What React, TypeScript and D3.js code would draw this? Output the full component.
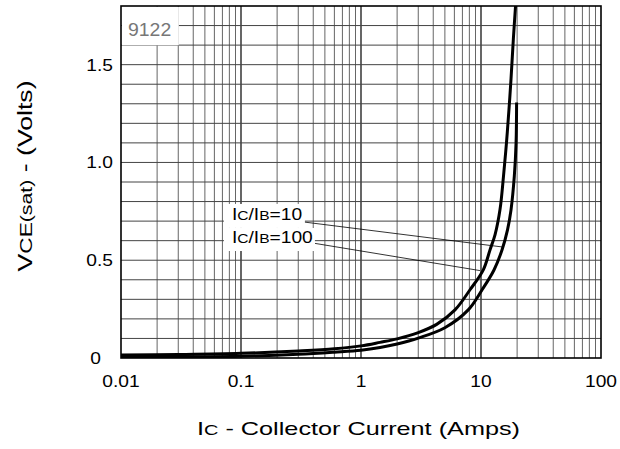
import React from "react";
import * as d3 from "d3";

// ---- data ----
const xTicks = [0.01, 0.1, 1, 10, 100];
const xTickLabels = ["0.01", "0.1", "1", "10", "100"];
const yTicks = [0, 0.5, 1.0, 1.5];
const yTickLabels = ["0", "0.5", "1.0", "1.5"];
const yGrid = [0.1, 0.2, 0.3, 0.4, 0.5, 0.6, 0.7, 0.8, 0.9, 1.0, 1.1, 1.2, 1.3, 1.4, 1.5, 1.6, 1.7];

// Ic/Ib = 100
const currentA = [0.01, 0.03, 0.1, 0.3, 0.6, 1, 1.44, 2, 3, 4.27, 6.07, 8.1, 10.45, 11.9, 13.1, 14.4, 15.4, 16.3, 17.1, 17.8, 18.6, 19.45];
const voltsA = [0.015, 0.018, 0.024, 0.036, 0.047, 0.062, 0.08, 0.098, 0.13, 0.172, 0.246, 0.349, 0.451, 0.554, 0.631, 0.759, 0.93, 1.10, 1.27, 1.43, 1.63, 1.81];

// Ic/Ib = 10
const currentB = [0.01, 0.03, 0.1, 0.3, 0.6, 1, 1.44, 2, 3, 5, 7.83, 10.19, 12.83, 14.96, 16.63, 17.78, 18.95, 19.6, 19.8];
const voltsB = [0.005, 0.006, 0.009, 0.019, 0.03, 0.04, 0.054, 0.072, 0.102, 0.155, 0.246, 0.348, 0.45, 0.552, 0.655, 0.757, 0.93, 1.10, 1.306];

const labelTexts = [
  { main: "I", sub: "C", mid: "/I", sub2: "B", tail: "=10" },
  { main: "I", sub: "C", mid: "/I", sub2: "B", tail: "=100" },
];
// leader lines [I0, V0, I1, V1]
const leader10 = [0.329, 0.696, 14.96, 0.568];
const leader100 = [0.414, 0.586, 9.8, 0.447];
const labelAnchor = [0.084, 0.706, 0.588]; // x current, baseline volts line1, line2

const W = 620;
const H = 449;
const left = 121, right = 601, top = 6, bottom = 358;
const FONT = "'Liberation Sans', Arial, Helvetica, sans-serif";

export default function App() {
  const x = d3.scaleLog().domain([0.01, 100]).range([left, right]);
  const y = d3.scaleLinear().domain([0, 1.8]).range([bottom, top]);

  const minor: number[] = [];
  for (let e = -2; e < 2; e++) {
    for (let m = 2; m <= 9; m++) minor.push(m * Math.pow(10, e));
  }
  const decades = [0.1, 1, 10];

  const line = d3
    .line<[number, number]>()
    .x((d) => x(d[0]))
    .y((d) => y(d[1]))
    .curve(d3.curveCatmullRom.alpha(0.5));

  const dA = line(currentA.map((c, i) => [c, voltsA[i]] as [number, number])) || "";
  const dB = line(currentB.map((c, i) => [c, voltsB[i]] as [number, number])) || "";

  const lx = x(labelAnchor[0]);
  const ly1 = y(labelAnchor[1]);
  const ly2 = y(labelAnchor[2]);

  return (
    <svg
      width={W}
      height={H}
      viewBox={`0 0 ${W} ${H}`}
      style={{ position: "absolute", left: 0, top: 0, background: "#fff" }}
      fontFamily={FONT}
    >
      <defs>
        <clipPath id="plotClip">
          <rect x={left} y={top} width={right - left} height={bottom - top} />
        </clipPath>
      </defs>
      <rect x={0} y={0} width={W} height={H} fill="#fff" />

      {/* grid */}
      {minor.map((m, i) => (
        <line key={"m" + i} x1={x(m)} x2={x(m)} y1={top} y2={bottom} stroke="#666" strokeWidth={1} />
      ))}
      {decades.map((m, i) => (
        <line key={"d" + i} x1={x(m)} x2={x(m)} y1={top} y2={bottom} stroke="#000" strokeWidth={1.2} />
      ))}
      {yGrid.map((v, i) => (
        <line key={"h" + i} x1={left} x2={right} y1={y(v)} y2={y(v)} stroke="#444" strokeWidth={1} />
      ))}

      {/* 9122 label box */}
      <rect x={left + 0.8} y={top + 0.8} width={57} height={38.5} fill="#fff" />
      <text
        transform={`translate(${left + 7},${top + 30}) scale(1.08,1)`}
        fontSize={18}
        fill="#777"
      >
        9122
      </text>

      {/* curves */}
      <g clipPath="url(#plotClip)">
        <path d={dA} fill="none" stroke="#000" strokeWidth={3} />
        <path d={dB} fill="none" stroke="#000" strokeWidth={3} />
      </g>

      {/* leader lines */}
      <line x1={x(leader10[0])} y1={y(leader10[1])} x2={x(leader10[2])} y2={y(leader10[3])} stroke="#000" strokeWidth={0.8} />
      <line x1={x(leader100[0])} y1={y(leader100[1])} x2={x(leader100[2])} y2={y(leader100[3])} stroke="#000" strokeWidth={0.8} />

      {/* annotation labels */}
      <rect x={lx - 8} y={ly1 - 16} width={81} height={24} fill="#fff" />
      <rect x={lx - 8} y={ly2 - 15} width={91} height={23} fill="#fff" />
      {labelTexts.map((t, i) => (
        <text
          key={"lab" + i}
          transform={`translate(${lx},${i === 0 ? ly1 : ly2}) scale(1.2,1)`}
          fontSize={16}
          fill="#000"
        >
          <tspan>{t.main}</tspan>
          <tspan fontSize={13}>{t.sub}</tspan>
          <tspan>{t.mid}</tspan>
          <tspan fontSize={13}>{t.sub2}</tspan>
          <tspan>{t.tail}</tspan>
        </text>
      ))}

      {/* frame */}
      <rect x={left} y={top} width={right - left} height={bottom - top} fill="none" stroke="#000" strokeWidth={1.6} />

      {/* x ticks */}
      {xTicks.map((t, i) => (
        <text
          key={"xt" + i}
          transform={`translate(${x(t)},387) scale(1.2,1)`}
          textAnchor="middle"
          fontSize={16}
          fill="#000"
        >
          {xTickLabels[i]}
        </text>
      ))}
      {/* y ticks */}
      {yTicks.map((t, i) => (
        <text
          key={"yt" + i}
          transform={`translate(${yTickLabels[i] === "0" ? 101 : 113},${y(t) + 6}) scale(1.2,1)`}
          textAnchor="end"
          fontSize={16}
          fill="#000"
        >
          {yTickLabels[i]}
        </text>
      ))}

      {/* x title */}
      <text x={358.5} y={435} textAnchor="middle" fontSize={19} textLength={323} lengthAdjust="spacingAndGlyphs" fill="#000">
        <tspan>I</tspan>
        <tspan fontSize={15}>C</tspan>
        <tspan> - Collector Current (Amps)</tspan>
      </text>

      {/* y title */}
      <text
        transform={`translate(32,176) rotate(-90)`}
        textAnchor="middle"
        fontSize={20}
        textLength={191}
        lengthAdjust="spacingAndGlyphs"
        fill="#000"
      >
        <tspan>V</tspan>
        <tspan fontSize={17}>CE</tspan>
        <tspan fontSize={16}>(sat)</tspan>
        <tspan> - (Volts)</tspan>
      </text>
    </svg>
  );
}
